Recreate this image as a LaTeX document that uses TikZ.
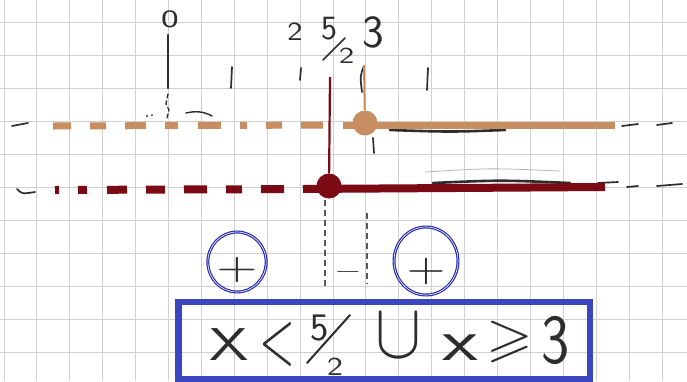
\documentclass[tikz,border=0pt]{standalone}
\usepackage{fontspec}
\usepackage{amssymb}
\usepackage{graphicx}
\usetikzlibrary{shapes.geometric}
\definecolor{gridgray}{RGB}{208,208,208}
\definecolor{pencil}{RGB}{45,45,45}
\definecolor{tanline}{RGB}{200,142,98}
\definecolor{maroonline}{RGB}{123,10,20}
\definecolor{boxblue}{RGB}{58,70,190}
\definecolor{penblue}{RGB}{40,45,175}
\begin{document}
\begin{tikzpicture}[x=1pt,y=-1pt,
  gridline/.style={draw=gridgray,line width=0.9pt},
  pen/.style={draw=pencil,line width=1.7pt,line cap=round},
  faint/.style={draw=pencil!35,line width=0.8pt,line cap=round},
  vdash/.style={draw=pencil!80,line width=1.1pt,dash pattern=on 6pt off 4pt},
  oline/.style={draw=tanline,line width=7pt},
  rline/.style={draw=maroonline,line width=8pt},
  odot/.style={circle,fill=tanline,minimum size=25pt,inner sep=0pt},
  rdot/.style={circle,fill=maroonline,minimum size=25pt,inner sep=0pt},
  txt/.style={text=pencil,inner sep=0pt,font=\sffamily},
  ring/.style={ellipse,draw=penblue,line width=1.2pt,double=white,double distance=0.6pt,inner sep=0pt,text=pencil},
  ansbox/.style={draw=boxblue,line width=6.5pt,inner sep=0pt}]
\useasboundingbox (0,0) rectangle (687,381);
\fill[white] (0,0) rectangle (687,381);
% graph paper
\foreach \i in {0,...,20} \draw[gridline] ({4+32.9*\i},0) -- ({4+32.9*\i},381);
\foreach \j in {0,...,10} \draw[gridline] (0,{22+33*\j}) -- (687,{22+33*\j});
% pencil axis ticks
\draw[pen,line width=2.2pt] (168,35) -- (168,88);
\draw[pen] (232,67) -- (231,88);
\draw[pen] (301,68) -- (300,80);
\draw[pen] (364,66) .. controls (360,76) .. (362,92);
\draw[pen] (428,68) -- (427,90);
% pencil marks under 0
\draw[pen,line width=1.3pt,dash pattern=on 4pt off 3pt] (168,94) -- (166,104) -- (169,110) -- (167,118);
\fill[pencil] (147,116) circle (1.2pt) (152,115) circle (1pt);
\draw[pen,line width=1.4pt] (186,113) .. controls (195,111) and (203,111) .. (212,116);
% side marks
\draw[pen] (12,126) -- (28,123);
\draw[pen] (17,189) .. controls (22,194) .. (35,192);
\draw[pen] (622,126) -- (638,124);
\draw[pen] (657,125) -- (672,123);
\draw[pen] (598,183) -- (618,182);
\draw[pen] (627,187) -- (638,186);
\draw[pen] (657,186) -- (682,184);
\draw[pen,line width=2.6pt] (390,130) .. controls (450,132) .. (505,130);
\draw[pen,line width=2.6pt] (433,183) .. controls (500,180) .. (570,183);
\draw[faint] (425,172) .. controls (490,168) .. (560,171);
\draw[pen] (373,138) -- (374,153);
% dashed verticals
\draw[vdash] (325,200) -- (325,287);
\draw[vdash] (367,213) -- (367,284);
% orange line
\coordinate (oL) at (53,126);
\coordinate (oM) at (343,125);
\coordinate (oR) at (615,125);
\coordinate (oT) at (364,66);
\draw[oline,dash pattern=on 18pt off 19pt on 16pt off 19pt on 21pt off 19pt on 13pt off 20pt on 23pt off 19pt on 7pt off 19pt on 16pt off 19pt on 22pt off 30pt] (oL) -- (oM);
\draw[oline] (oM) -- (oR);
\node[odot] (od) at (365,123) {};
\draw[tanline,line width=2pt] (oT) -- (od);
% red line
\coordinate (rL) at (55,190);
\coordinate (rM) at (303,189);
\coordinate (rR) at (605,187);
\coordinate (rT) at (330,77);
\draw[rline,dash pattern=on 4pt off 19pt on 9pt off 20pt on 20pt off 19pt on 19pt off 19pt on 23pt off 19pt on 16pt off 19pt on 23pt off 19pt] (rL) -- (rM);
\draw[rline] (rM) -- (rR);
\node[rdot] (rd) at (329,186) {};
\draw[maroonline,line width=2.2pt] (rT) -- (rd);
% axis labels
\node[txt,anchor=base] (l0) at (170,27) {\scalebox{1.5}[1]{\fontsize{25}{25}\selectfont 0}};
\node[txt,anchor=base] (l2) at (295,40) {\scalebox{1.3}[1.05]{\fontsize{25}{25}\selectfont 2}};
\node[txt,anchor=base west] (l5) at (321,39) {\fontsize{34}{34}\selectfont 5};
\node[txt,anchor=base west] (l5d) at (339,63) {\scalebox{1.4}[1]{\fontsize{23}{23}\selectfont 2}};
\draw[pen,line width=1.5pt] (323,60) -- (345,38);
\node[txt,anchor=base west] (l3) at (362,47) {\fontsize{46}{46}\selectfont 3};
% sign chart
\node[ring,minimum width=56pt,minimum height=60pt] (c1) at (237,262) {\raisebox{-17.5pt}[0pt][0pt]{\scalebox{5.3}[3.8]{$+$}}};
\node[txt] (s2) at (348,272) {\scalebox{3.5}[2.2]{$-$}};
\node[ring,minimum width=64pt,minimum height=68pt] (c2) at (426,261) {\raisebox{-20.5pt}[0pt][0pt]{\scalebox{5}[4]{$+$}}};
% answer box
\node[ansbox,minimum width=411.5pt,minimum height=77pt] (box) at (384.25,340.5) {};
\node[txt,anchor=base west] (ans) at (205,360) {%
\makebox[48pt]{\scalebox{1.37}[1]{\fontsize{46}{46}\selectfont X}}%
\makebox[48pt]{\raisebox{-3pt}{\scalebox{4.6}[7.6]{$<$}}}%
\makebox[54pt][l]{\rlap{\kern9pt\raisebox{20pt}{\fontsize{39}{39}\selectfont 5}}\rlap{\kern26pt\raisebox{-15pt}{\scalebox{1.3}[1]{\fontsize{26}{26}\selectfont 2}}}}%
\makebox[86pt]{\raisebox{3pt}{\scalebox{6.9}[7.8]{$\cup$}}}%
\makebox[38pt]{\scalebox{1.8}[1.3]{\fontsize{46}{46}\selectfont x}}%
\makebox[62pt]{\raisebox{5pt}{\scalebox{6}[5.4]{$\geqslant$}}}%
\makebox[28pt]{\raisebox{-3pt}{\scalebox{1}[1.17]{\fontsize{60}{60}\selectfont 3}}}%
};
\draw[pen,line width=2pt] (307,363) -- (350,315);
\end{tikzpicture}
\end{document}
